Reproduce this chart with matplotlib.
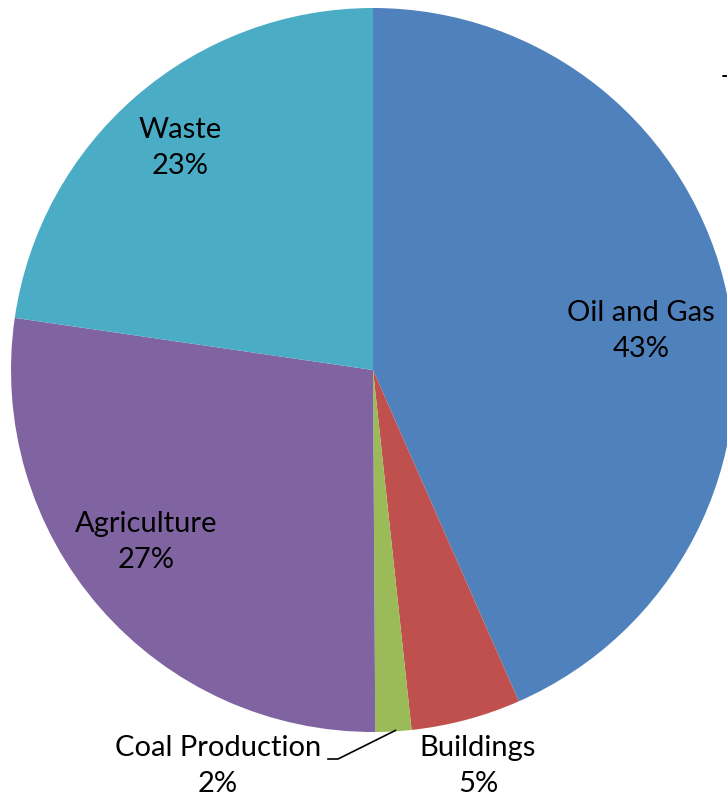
import numpy as np
import matplotlib
matplotlib.use('Agg')
import matplotlib.pyplot as plt

# Дані
labels = ['Oil and Gas', 'Buildings', 'Coal Production', 'Agriculture', 'Waste']
values = [43.4, 4.9, 1.6, 27.4, 22.7]
colors = ['#4F81BD', '#C0504D', '#9BBB59', '#8064A2', '#4BACC6']

plt.rcParams['font.family'] = ['Lato', 'DejaVu Sans']

W, H = 727, 800
fig = plt.figure(figsize=(W / 100, H / 100), dpi=100)
ax = fig.add_axes([0, 0, 1, 1])

cx, cy, R = 373, H - 370, 362
wedges, _ = ax.pie(values, colors=colors, startangle=90, counterclock=False,
                   center=(cx, cy), radius=R, frame=True,
                   wedgeprops=dict(linewidth=0))
ax.set_xlim(0, W)
ax.set_ylim(0, H)
ax.set_aspect('equal')
ax.axis('off')

# Розміщення підписів (пікселі від верхнього лівого кута)
label_pos = {'Oil and Gas': (641, 331), 'Buildings': (478, 766),
             'Coal Production': (218, 766), 'Agriculture': (146, 542),
             'Waste': (180, 148)}
for lab, v in zip(labels, values):
    px, py = label_pos[lab]
    ax.text(px, H - py, f'{lab}\n{v:.0f}%', ha='center', va='center',
            fontsize=21, linespacing=1.5)

# Виносна лінія для Coal Production
mid = np.deg2rad((wedges[2].theta1 + wedges[2].theta2) / 2)
x0, y0 = cx + R * np.cos(mid), cy + R * np.sin(mid)
ax.plot([x0 + 2, 338, 328], [y0 + 1, H - 759, H - 759], color='black', lw=1.2)

# обрізаний заголовок справа
ax.text(722, H - 75, 'T', ha='left', va='top', fontsize=21)

fig.savefig('out.png', dpi=100)
